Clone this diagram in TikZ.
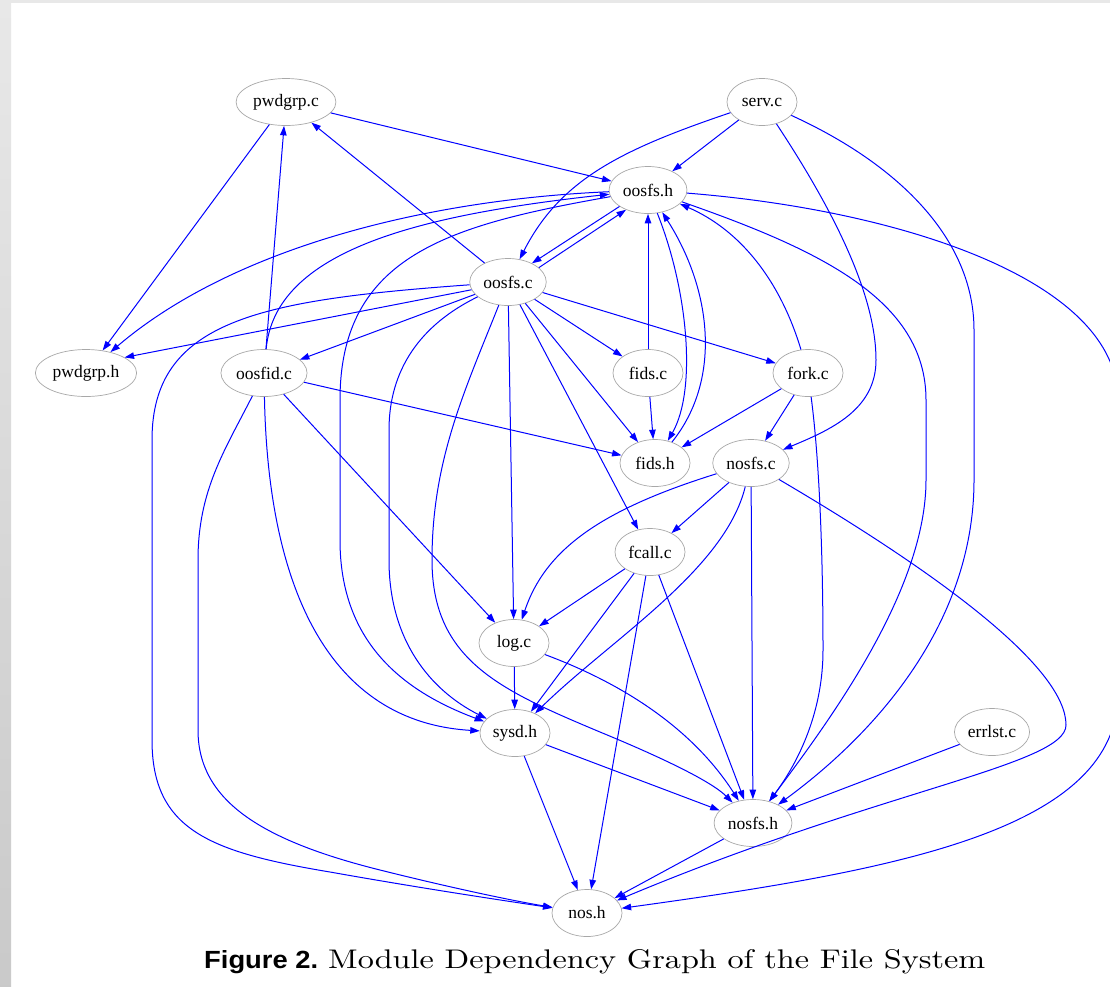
\documentclass[tikz,border=0pt]{standalone}
\usepackage{fontspec}
\usetikzlibrary{shapes.geometric,arrows.meta}
\newfontfamily\nodefont{Liberation Serif}
\newfontfamily\capsans{Liberation Sans}
\definecolor{edgeblue}{HTML}{0000FF}
\definecolor{nodegray}{HTML}{A8A8A8}
\begin{document}
\begin{tikzpicture}[x=1pt,y=-1pt,
  nd/.style={ellipse, draw=nodegray, line width=0.7pt, minimum width=70pt, minimum height=47pt,
    inner xsep=2.5pt, inner ysep=0pt, font={\nodefont\fontsize{17.5}{20}\selectfont}},
  e/.style={draw=edgeblue, line width=1pt, -{Triangle[length=9.5pt,width=6.5pt]}}]
\useasboundingbox (0,0) rectangle (1110,986);
\fill[white] (0,0) rectangle (1110,986);
\shade[top color=black!9, bottom color=black!21] (0,0) rectangle (11,986);
\fill[black!9] (0,0) rectangle (1110,3);
\clip (11,3) rectangle (1110,986);

% nodes
\node[nd] (pwdgrpc) at (286,102) {pwdgrp.c};
\node[nd] (servc)   at (762,102) {serv.c};
\node[nd] (oosfsh)  at (648,190) {oosfs.h};
\node[nd] (oosfsc)  at (508,282) {oosfs.c};
\node[nd] (pwdgrph) at (86,373)  {pwdgrp.h};
\node[nd] (oosfidc) at (264,373) {oosfid.c};
\node[nd] (fidsc)   at (648,373) {fids.c};
\node[nd] (forkc)   at (808,373) {fork.c};
\node[nd] (fidsh)   at (655,463) {fids.h};
\node[nd] (nosfsc)  at (751,463) {nosfs.c};
\node[nd] (fcallc)  at (650,552) {fcall.c};
\node[nd] (logc)    at (514,643) {log.c};
\node[nd] (sysdh)   at (515,733) {sysd.h};
\node[nd] (errlstc) at (992,732) {errlst.c};
\node[nd] (nosfsh)  at (753,823) {nosfs.h};
\node[nd] (nosh)    at (587,913) {nos.h};

% straight edges
\draw[e] (pwdgrpc) -- (pwdgrph);
\draw[e] (pwdgrpc) -- (oosfsh);
\draw[e] (servc) -- (oosfsh);
\draw[e] (oosfsh.210) -- (oosfsc.38);
\draw[e] (oosfsc.25) -- (oosfsh.222);
\draw[e] (oosfsc) -- (pwdgrpc);
\draw[e] (oosfsc.192) -- (pwdgrph.22);
\draw[e] (oosfsc) -- (oosfidc);
\draw[e] (oosfsc) -- (fidsc);
\draw[e] (oosfsc) -- (forkc);
\draw[e] (oosfsc) -- (fidsh);
\draw[e] (oosfsc) -- (fcallc);
\draw[e] (oosfsc) -- (logc);
\draw[e] (oosfidc) -- (pwdgrpc);
\draw[e] (oosfidc) -- (fidsh);
\draw[e] (oosfidc) -- (logc);
\draw[e] (fidsc) -- (oosfsh);
\draw[e] (fidsc) -- (fidsh);
\draw[e] (forkc) -- (fidsh);
\draw[e] (forkc) -- (nosfsc);
\draw[e] (nosfsc) -- (fcallc);
\draw[e] (nosfsc) -- (nosfsh);
\draw[e] (fcallc) -- (logc);
\draw[e] (fcallc) -- (sysdh);
\draw[e] (fcallc) -- (nosh);
\draw[e] (fcallc) -- (nosfsh);
\draw[e] (logc) -- (sysdh);
\draw[e] (sysdh) -- (nosfsh);
\draw[e] (sysdh) -- (nosh);
\draw[e] (nosfsh) -- (nosh);
\draw[e] (errlstc) -- (nosfsh);

% curved edges
\draw[e] (oosfsh) .. controls (420,200) and (230,250) .. (pwdgrph);
\draw[e] (oosfidc) .. controls (275,250) and (420,215) .. (oosfsh);
\draw[e] (oosfsh) .. controls (450,225) and (340,255) .. (340,400) -- (340,540)
  .. controls (340,640) and (400,690) .. (sysdh);
\draw[e] (oosfsc) .. controls (420,325) and (389,370) .. (389,430) -- (389,560)
  .. controls (389,640) and (430,690) .. (sysdh);
\draw[e] (oosfsc) .. controls (465,390) and (432,460) .. (432,560)
  .. controls (432,660) and (500,690) .. (600,732)
  .. controls (680,765) and (715,785) .. (nosfsh);
\draw[e] (oosfsc) .. controls (260,300) and (152,320) .. (152,440) -- (152,740)
  .. controls (152,830) and (210,852) .. (330,872)
  .. controls (420,888) and (500,900) .. (nosh);
\draw[e] (oosfidc) .. controls (225,450) and (198,490) .. (198,560) -- (198,730)
  .. controls (198,800) and (260,840) .. (380,870)
  .. controls (460,890) and (520,902) .. (nosh);
\draw[e] (oosfidc) .. controls (268,590) and (330,722) .. (sysdh);
\draw[e] (servc) .. controls (620,150) and (560,180) .. (oosfsc);
\draw[e] (servc) .. controls (840,220) and (876,300) .. (876,360)
  .. controls (876,410) and (830,430) .. (nosfsc);
\draw[e] (servc) .. controls (900,165) and (974,240) .. (974,330) -- (974,480)
  .. controls (974,620) and (880,730) .. (nosfsh);
\draw[e] (oosfsh) .. controls (820,250) and (926,300) .. (926,400) -- (926,480)
  .. controls (926,590) and (830,720) .. (nosfsh);
\draw[e] (oosfsh) .. controls (900,210) and (1118,280) .. (1118,400) -- (1118,700)
  .. controls (1110,830) and (900,870) .. (nosh);
\draw[e] (nosfsc) .. controls (950,580) and (1066,670) .. (1066,725)
  .. controls (1066,765) and (880,790) .. (nosh);
\draw[e] (forkc) .. controls (780,280) and (740,230) .. (oosfsh);
\draw[e] (forkc) .. controls (822,480) and (823,600) .. (823,650)
  .. controls (823,710) and (800,760) .. (nosfsh);
\draw[e] (oosfsh) .. controls (688,290) and (697,390) .. (fidsh);
\draw[e] (fidsh) .. controls (722,380) and (712,290) .. (oosfsh);
\draw[e] (logc) .. controls (640,690) and (700,740) .. (nosfsh);
\draw[e] (nosfsc) .. controls (600,510) and (545,550) .. (logc);
\draw[e] (nosfsc) .. controls (725,570) and (610,640) .. (sysdh);

% caption
\node[anchor=base west, inner sep=0pt] (capa) at (204,968)
  {\resizebox{114pt}{18pt}{\capsans\bfseries Figure 2.}};
\node[anchor=base west, inner sep=0pt] (capb) at (328,968)
  {\resizebox{657pt}{19pt}{Module Dependency Graph of the File System}};
\end{tikzpicture}
\end{document}
